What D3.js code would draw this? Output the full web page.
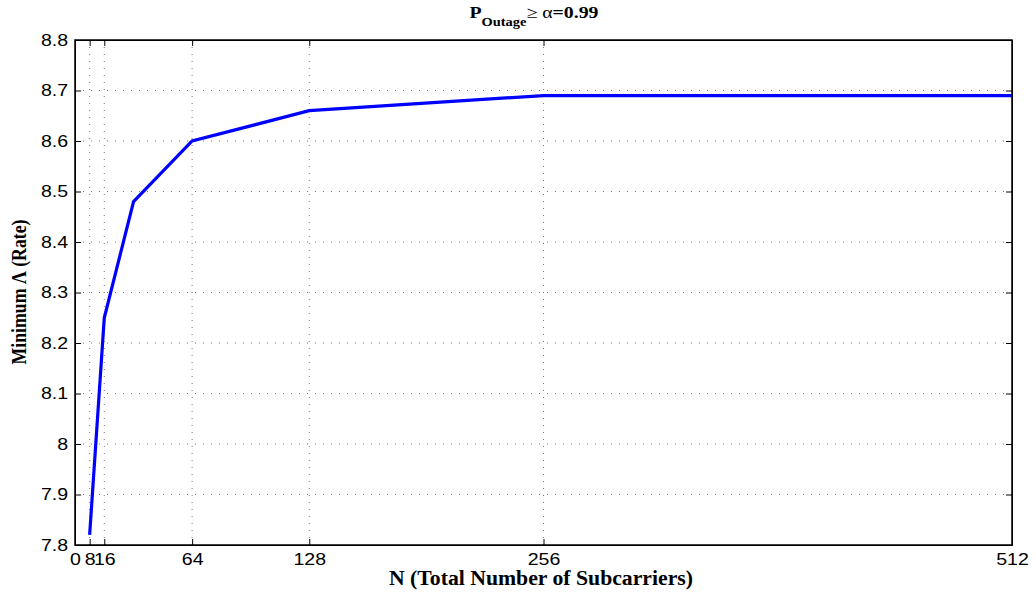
<!DOCTYPE html>
<html>
<head>
<meta charset="utf-8">
<script src="https://cdn.jsdelivr.net/npm/d3@7"></script>
<style>
  html, body { margin: 0; padding: 0; background: #fff; }
  svg { display: block; }
</style>
</head>
<body>
<svg id="chart" width="1036" height="592"></svg>
<script>
// Subcarrier counts and the minimum rate reached for each
const subcarriers = [8, 16, 32, 64, 128, 256, 512];
const minRate = [7.82, 8.25, 8.48, 8.60, 8.66, 8.69, 8.69];

const xTicks = [0, 8, 16, 64, 128, 256, 512];
const yTicks = [7.8, 7.9, 8.0, 8.1, 8.2, 8.3, 8.4, 8.5, 8.6, 8.7, 8.8];

const W = 1036, H = 592;
const m = { left: 75, right: 24, top: 40, bottom: 47 };
const iw = W - m.left - m.right, ih = H - m.top - m.bottom;

const svg = d3.select("#chart");
const g = svg.append("g").attr("transform", `translate(${m.left},${m.top})`);

const x = d3.scaleLinear().domain([0, 512]).range([0, iw]);
const y = d3.scaleLinear().domain([7.8, 8.8]).range([ih, 0]);

// dotted grid
g.append("g").selectAll("line").data(xTicks.filter(d => d > 0 && d < 512)).join("line")
  .attr("x1", d => x(d)).attr("x2", d => x(d)).attr("y1", 0).attr("y2", ih)
  .attr("stroke", "#777").attr("stroke-width", 1).attr("stroke-dasharray", "1,6");
g.append("g").selectAll("line").data(yTicks.slice(1, -1)).join("line")
  .attr("x1", 0).attr("x2", iw).attr("y1", d => y(d)).attr("y2", d => y(d))
  .attr("stroke", "#777").attr("stroke-width", 1).attr("stroke-dasharray", "1,7");

// axes with inward ticks
const tickFont = "'Liberation Sans', Arial, sans-serif";
const xAxis = g.append("g").attr("transform", `translate(0,${ih})`)
  .call(d3.axisBottom(x).tickValues(xTicks).tickFormat(d3.format("d")).tickSizeInner(-6).tickSizeOuter(0).tickPadding(8));
const yAxis = g.append("g")
  .call(d3.axisLeft(y).tickValues(yTicks).tickFormat(d => d === 8 ? "8" : d3.format(".1f")(d)).tickSizeInner(-6).tickSizeOuter(0).tickPadding(6));
g.append("g").call(d3.axisTop(x).tickValues(xTicks).tickFormat("").tickSizeInner(-6).tickSizeOuter(0));
g.append("g").attr("transform", `translate(${iw},0)`)
  .call(d3.axisRight(y).tickValues(yTicks).tickFormat("").tickSizeInner(-6).tickSizeOuter(0));

[xAxis, yAxis].forEach(a => a.selectAll("text")
  .attr("font-family", tickFont).attr("font-size", 17).attr("fill", "#000")
  .attr("transform", "scale(1.15,1)"));
g.selectAll(".domain").attr("stroke", "#000");
g.selectAll(".tick line").attr("stroke", "#000");

// frame
g.append("rect").attr("width", iw).attr("height", ih)
  .attr("fill", "none").attr("stroke", "#000").attr("stroke-width", 1.5);

// series line
const line = d3.line().x((d, i) => x(subcarriers[i])).y(d => y(d));
g.append("path").datum(minRate).attr("d", line)
  .attr("fill", "none").attr("stroke", "#0000ff").attr("stroke-width", 3.2)
  .attr("stroke-linejoin", "miter");

// labels
const serif = "'Liberation Serif', 'Times New Roman', serif";
svg.append("text").attr("x", 541).attr("y", 585)
  .attr("text-anchor", "middle").attr("font-family", serif).attr("font-weight", "bold")
  .attr("font-size", 20).attr("textLength", 304).attr("lengthAdjust", "spacingAndGlyphs")
  .text("N (Total Number of Subcarriers)");

svg.append("text").attr("transform", "translate(26,292) rotate(-90)")
  .attr("text-anchor", "middle").attr("font-family", serif).attr("font-weight", "bold")
  .attr("font-size", 21).attr("textLength", 145).attr("lengthAdjust", "spacingAndGlyphs")
  .text("Minimum Λ (Rate)");

const title = svg.append("text")
  .attr("transform", "translate(534,18) scale(1.2,1)")
  .attr("text-anchor", "middle").attr("font-family", serif).attr("font-size", 16.5);
title.append("tspan").attr("font-weight", "bold").text("P");
title.append("tspan").attr("font-weight", "bold").attr("font-size", 12).attr("dy", 8).text("Outage");
title.append("tspan").attr("dy", -8).text("≥ α");
title.append("tspan").attr("font-weight", "bold").text("=0.99");
</script>
</body>
</html>
